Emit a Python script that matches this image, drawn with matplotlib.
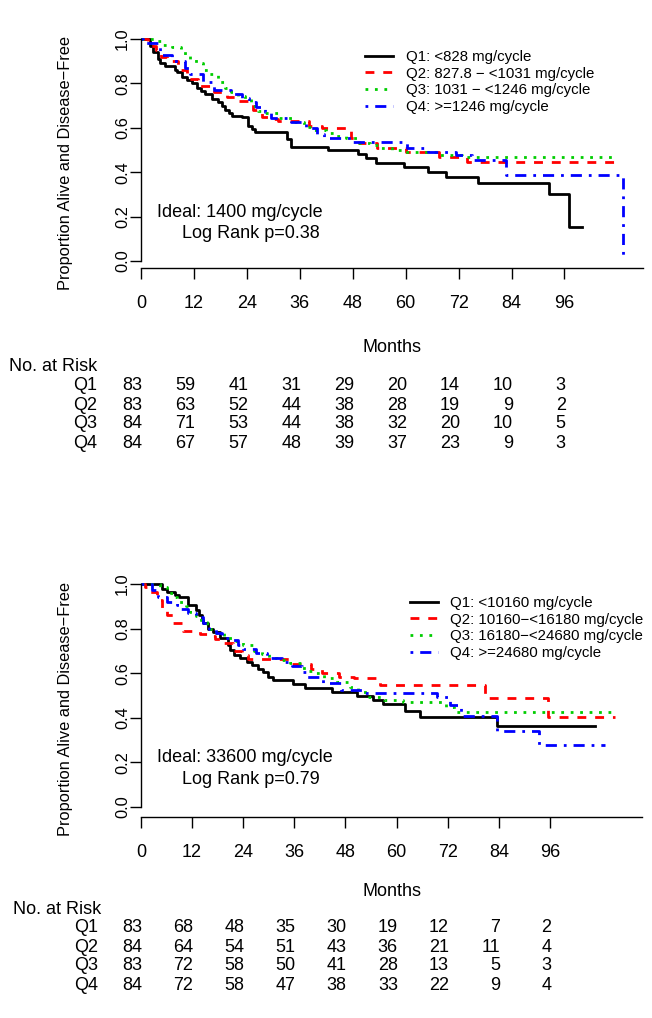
import matplotlib
matplotlib.use("Agg")
import matplotlib.pyplot as plt
import matplotlib.transforms as mtrans

plt.rcParams["font.family"] = ["Liberation Sans", "DejaVu Sans"]
plt.rcParams["font.size"] = 13

W, H = 652, 1018

# ---- top panel: Kaplan-Meier steps (months, proportion) ----
top_t1 = [0, 2, 2.7, 3.9, 4.3, 5.5, 7.7, 8.2, 9.3, 10.5, 11.6, 12.7, 13.6, 14.6, 16.2, 17.5, 18.4, 19.1, 20, 20.7,
          23, 24.3, 25.2, 25.9, 33.2, 33.9, 42.5, 49.1, 51, 53.2, 59.6, 65.1, 69.2, 76.4, 92.4, 97.1, 99.9]
top_v1 = [1.0, 0.97, 0.94, 0.91, 0.89, 0.88, 0.86, 0.85, 0.83, 0.815, 0.80, 0.78, 0.765, 0.75, 0.73, 0.715, 0.70, 0.68,
          0.665, 0.655, 0.65, 0.61, 0.595, 0.58, 0.55, 0.514, 0.50, 0.48, 0.465, 0.44, 0.425, 0.40, 0.38, 0.35, 0.30,
          0.153, 0.153]
top_t2 = [0, 1.5, 3.5, 4.5, 6, 8.5, 10.5, 13, 16.5, 19.5, 22, 25.5, 27.5, 29, 31, 38, 41, 47.5, 49.5, 53.5, 60, 67.5,
          74, 109]
top_v2 = [1.0, 0.97, 0.95, 0.92, 0.90, 0.86, 0.82, 0.79, 0.76, 0.74, 0.72, 0.68, 0.65, 0.64, 0.632, 0.61, 0.60, 0.555,
          0.53, 0.51, 0.49, 0.47, 0.446, 0.446]
top_t3 = [0, 3, 5, 7, 9, 10, 11, 12.5, 14, 15.5, 17.5, 19, 20.5, 22, 23.5, 25, 26.5, 28, 31, 35, 37, 39, 42, 44, 46.5,
          49.5, 52, 54.5, 57, 59.5, 67, 72.8, 107.5]
top_v3 = [1.0, 0.99, 0.975, 0.965, 0.945, 0.93, 0.91, 0.89, 0.86, 0.84, 0.805, 0.78, 0.76, 0.745, 0.73, 0.70, 0.675,
          0.665, 0.645, 0.625, 0.605, 0.59, 0.575, 0.565, 0.555, 0.53, 0.52, 0.51, 0.50, 0.49, 0.477, 0.468, 0.468]
top_t4 = [0, 0.5, 4.3, 7, 10, 11, 14, 16.5, 20.5, 23, 24.5, 26, 28, 29.5, 34, 37.5, 40, 41.5, 47.8, 60.3, 65, 71.5, 75,
          82.7, 109.3, 109.3]
top_v4 = [1.0, 0.98, 0.93, 0.90, 0.87, 0.84, 0.805, 0.77, 0.75, 0.735, 0.715, 0.695, 0.67, 0.645, 0.625, 0.60, 0.57,
          0.555, 0.535, 0.51, 0.49, 0.477, 0.455, 0.387, 0.387, 0.02]

# ---- bottom panel ----
bot_t1 = [0, 4.9, 6, 8, 9, 11, 12.8, 13.5, 14.3, 14.6, 15.8, 17, 18.5, 20.5, 21, 21.8, 23.2, 24.8, 26, 27.4, 28.6,
          29.8, 31, 35.6, 38.5, 44.9, 50.7, 54.5, 56.8, 62, 65.5, 83.6, 106.6]
bot_v1 = [1.0, 0.98, 0.965, 0.95, 0.94, 0.905, 0.885, 0.86, 0.84, 0.825, 0.80, 0.785, 0.76, 0.725, 0.705, 0.68, 0.67,
          0.65, 0.635, 0.62, 0.605, 0.585, 0.57, 0.55, 0.535, 0.515, 0.50, 0.48, 0.46, 0.43, 0.404, 0.363, 0.363]
bot_t2 = [0, 1, 2.2, 3.8, 5, 6.2, 7.5, 9.8, 13.8, 15.5, 17.3, 19.5, 21.5, 23.7, 25, 35.5, 40, 42.5, 46.5, 50, 56, 80.8,
          95.5, 111.3]
bot_v2 = [1.0, 0.985, 0.965, 0.93, 0.89, 0.86, 0.825, 0.79, 0.775, 0.765, 0.755, 0.735, 0.70, 0.68, 0.665, 0.64, 0.62,
          0.60, 0.585, 0.578, 0.547, 0.49, 0.404, 0.404]
bot_t3 = [0, 4.5, 6, 8, 8.5, 10.5, 11.5, 13, 14, 15.5, 17.5, 19.5, 21.5, 24, 26.5, 28.5, 30, 32, 35, 37.5, 39.5, 41, 43,
          46, 49, 51, 53.5, 57, 61.5, 71.5, 73.5, 111.3]
bot_v3 = [1.0, 0.985, 0.96, 0.94, 0.92, 0.90, 0.875, 0.855, 0.83, 0.80, 0.78, 0.76, 0.745, 0.725, 0.70, 0.685, 0.667,
          0.66, 0.645, 0.625, 0.61, 0.60, 0.578, 0.56, 0.538, 0.516, 0.493, 0.48, 0.47, 0.45, 0.426, 0.426]
bot_t4 = [0, 2.5, 4, 6, 8.5, 9, 11, 12.8, 14.5, 16, 17.5, 19, 21, 22.8, 24, 27, 29.5, 33, 35.5, 37.8, 39, 42.8, 47,
          52.5, 69.5, 72.5, 75, 83.5, 93.5, 109]
bot_v4 = [1.0, 0.975, 0.94, 0.92, 0.905, 0.89, 0.87, 0.85, 0.825, 0.80, 0.78, 0.76, 0.75, 0.725, 0.71, 0.69, 0.67,
          0.65, 0.632, 0.605, 0.585, 0.556, 0.525, 0.51, 0.493, 0.457, 0.41, 0.34, 0.277, 0.277]

top_labels = ["Q1: <828 mg/cycle", "Q2: 827.8 \u2212 <1031 mg/cycle",
              "Q3: 1031 \u2212 <1246 mg/cycle", "Q4: >=1246 mg/cycle"]
bot_labels = ["Q1: <10160 mg/cycle", "Q2: 10160\u2212<16180 mg/cycle",
              "Q3: 16180\u2212<24680 mg/cycle", "Q4: >=24680 mg/cycle"]

months = [0, 12, 24, 36, 48, 60, 72, 84, 96]
top_risk = {"Q1": [83, 59, 41, 31, 29, 20, 14, 10, 3],
            "Q2": [83, 63, 52, 44, 38, 28, 19, 9, 2],
            "Q3": [84, 71, 53, 44, 38, 32, 20, 10, 5],
            "Q4": [84, 67, 57, 48, 39, 37, 23, 9, 3]}
bot_risk = {"Q1": [83, 68, 48, 35, 30, 19, 12, 7, 2],
            "Q2": [84, 64, 54, 51, 43, 36, 21, 11, 4],
            "Q3": [83, 72, 58, 50, 41, 28, 13, 5, 3],
            "Q4": [84, 72, 58, 47, 38, 33, 22, 9, 4]}

colors = ["black", "#FF0000", "#00CD00", "#0000FF"]
dashes = [None, (3.2, 3.2), (1, 2.4), (1, 2.5, 4, 2.5)]


def panel(fig, box, xmax, ymin, curves, labels, leg_xy, ideal, risk, risk_y, months_y, ylab_y):
    ax = fig.add_axes([box[0] / W, 1 - box[3] / H, (box[2] - box[0]) / W, (box[3] - box[1]) / H])
    lines = []
    for (t, v), c, d, lab in zip(curves, colors, dashes, labels):
        ln, = ax.step(t, v, where="post", color=c, lw=2.0, label=lab)
        if d is not None:
            ln.set_dashes(d)
        lines.append(ln)
    ax.set_xlim(0, xmax)
    ax.set_ylim(ymin, 1.081)
    for s in ["top", "right"]:
        ax.spines[s].set_visible(False)
    ax.spines["left"].set_bounds(0, 1)
    ax.spines["left"].set_linewidth(1.0)
    ax.spines["bottom"].set_linewidth(1.0)
    ax.set_xticks(months)
    ax.set_yticks([0, 0.2, 0.4, 0.6, 0.8, 1.0])
    ax.set_yticklabels(["0.0", "0.2", "0.4", "0.6", "0.8", "1.0"])
    ax.tick_params(axis="x", direction="out", length=7.8, width=1, pad=11.6, labelsize=13)
    ax.tick_params(axis="y", direction="out", length=7.8, width=1, pad=0, labelsize=11.8, labelrotation=90)
    for lbl in ax.get_yticklabels():
        lbl.set_va("center")
    ax.set_ylabel("Proportion Alive and Disease\u2212Free", fontsize=11.8)
    ax.yaxis.set_label_coords((66 - box[0]) / (box[2] - box[0]), (box[3] - ylab_y) / (box[3] - box[1]))
    ax.yaxis.label.set_va("center")
    ax.set_xlabel("Months", fontsize=13)
    ax.xaxis.set_label_coords(0.5, (box[3] - months_y) / (box[3] - box[1]))
    ax.xaxis.label.set_va("center")

    ax.legend(handles=lines, loc="upper left", bbox_to_anchor=leg_xy, frameon=False, fontsize=10.8,
              handlelength=1.85, handletextpad=0.85, borderpad=0, borderaxespad=0, labelspacing=0.18)

    ax.text(ideal[0], ideal[1], ideal[2], ha="left", va="center", fontsize=13)
    ax.text(ideal[3], ideal[4], ideal[5], ha="left", va="center", fontsize=13)

    tr = mtrans.blended_transform_factory(ax.transData, fig.transFigure)
    ax.text(-30, 1 - risk_y[0] / H, "No. at Risk", transform=tr, ha="left", va="center", fontsize=13, clip_on=False)
    for i, (q, vals) in enumerate(risk.items()):
        yy = 1 - risk_y[i + 1] / H
        ax.text(-10, yy, q, transform=tr, ha="right", va="center", fontsize=13, clip_on=False)
        for m, n in zip(months, vals):
            ax.text(m + 0.3, yy, str(n), transform=tr, ha="right", va="center", fontsize=13, clip_on=False)
    return ax


fig = plt.figure(figsize=(W / 100, H / 100), dpi=100)

panel(fig, (141, 21, 643, 268), 113.8, -0.032,
      [(top_t1, top_v1), (top_t2, top_v2), (top_t3, top_v3), (top_t4, top_v4)], top_labels,
      ((365 - 141) / 502, (268 - 50) / 247),
      (3.6, 0.22, "Ideal: 1400 mg/cycle", 9.3, 0.124, "Log Rank p=0.38"),
      top_risk, [367, 386, 405, 424, 443], 348, 163)

panel(fig, (141, 566, 642, 817), 117.6, -0.045,
      [(bot_t1, bot_v1), (bot_t2, bot_v2), (bot_t3, bot_v3), (bot_t4, bot_v4)], bot_labels,
      ((410 - 141) / 501, (817 - 596) / 251),
      (3.76, 0.22, "Ideal: 33600 mg/cycle", 9.6, 0.124, "Log Rank p=0.79"),
      bot_risk, [909, 928, 947, 966, 985], 891, 709)

fig.savefig("out.png", dpi=100)
